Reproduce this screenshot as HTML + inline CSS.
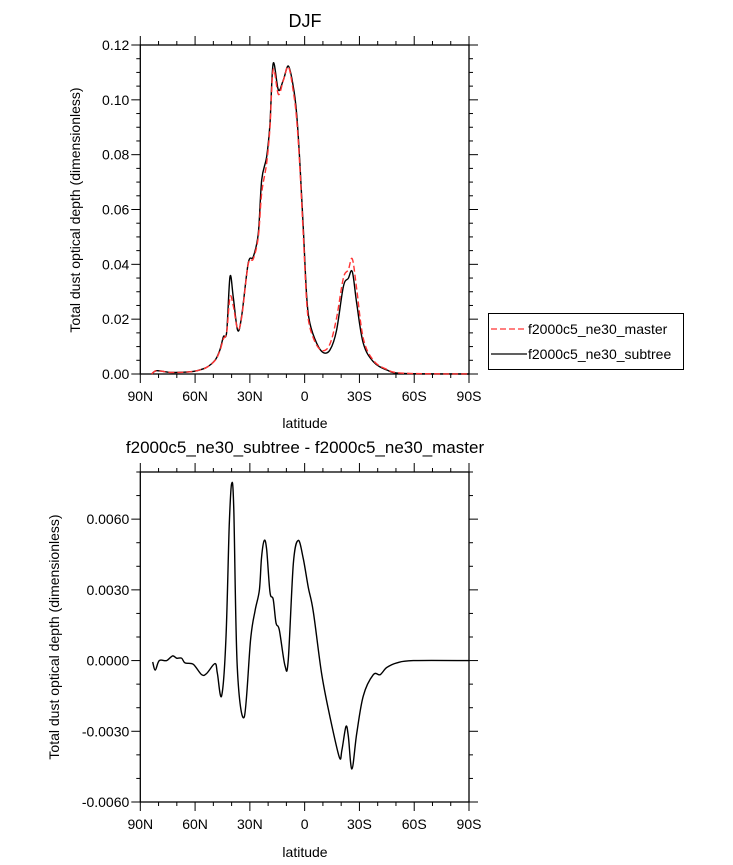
<!DOCTYPE html>
<html><head><meta charset="utf-8"><style>
body{margin:0;background:#fff}
svg text{font-family:"Liberation Sans",sans-serif;fill:#000}
</style></head><body>
<svg id="c" width="733" height="860" xmlns="http://www.w3.org/2000/svg">
<text x="305" y="27" font-size="18" text-anchor="middle">DJF</text>
<text x="305" y="453" font-size="17" text-anchor="middle">f2000c5_ne30_subtree - f2000c5_ne30_master</text>
<text transform="translate(80,210) rotate(-90)" font-size="14" text-anchor="middle">Total dust optical depth (dimensionless)</text>
<text transform="translate(59,637) rotate(-90)" font-size="14" text-anchor="middle">Total dust optical depth (dimensionless)</text>
<text x="305" y="428" font-size="14" text-anchor="middle">latitude</text>
<text x="305" y="857" font-size="14" text-anchor="middle">latitude</text>
<g>
<rect x="488.5" y="313.5" width="195" height="56" fill="none" stroke="#000" stroke-width="1"/>
<line x1="491" y1="329" x2="527" y2="329" stroke="#f33" stroke-width="1.3" stroke-dasharray="6,3"/>
<text x="528" y="334" font-size="14">f2000c5_ne30_master</text>
<line x1="491" y1="354" x2="527" y2="354" stroke="#000" stroke-width="1.3"/>
<text x="528" y="359" font-size="14">f2000c5_ne30_subtree</text>
</g>
</svg>
<script>
const lats=[83.8,81,73.7,64.6,59,53.7,49,46.4,44.5,42.7,40.9,39.1,36.7,34.5,30.9,28.1,25.4,23.5,20.8,19,17.2,14.4,11.7,8.9,6.2,4.4,2.6,0.7,-1.1,-2.9,-6.6,-10.2,-13.9,-17.5,-21.2,-23.9,-26.1,-28.5,-32.1,-37.6,-44.9,-54,-90];
const subtree=[0,0.0012,0.0006,0.0007,0.0012,0.0024,0.0051,0.0088,0.0136,0.0154,0.0355,0.0282,0.016,0.021,0.0404,0.0428,0.0513,0.0708,0.0793,0.0914,0.1133,0.1036,0.1072,0.1123,0.1048,0.0951,0.0768,0.0525,0.0282,0.0185,0.0112,0.0078,0.0088,0.016,0.0319,0.0349,0.0373,0.0258,0.0112,0.0045,0.0015,0.0002,0];
const master=[0,0.0012,0.0006,0.0007,0.0012,0.0024,0.005,0.0085,0.0128,0.0152,0.028,0.025,0.0165,0.0205,0.04,0.042,0.05,0.066,0.077,0.09,0.111,0.102,0.107,0.112,0.103,0.093,0.075,0.05,0.026,0.017,0.0105,0.0085,0.011,0.0205,0.035,0.038,0.042,0.031,0.013,0.005,0.0017,0.0003,0];
const dLats=[83.2,81.8,79.6,75.6,72.3,70.1,67.4,65.5,61,56.4,53.7,49.1,47.8,45.5,43.1,41.3,40,38.8,36.9,33.1,29.6,27.2,24.8,23.6,22.1,20.8,19,17.2,15.7,13.9,10.8,9,6.2,3.5,0.7,-2,-4.7,-9.3,-13.9,-19,-20.4,-22.6,-23.9,-25.9,-28.5,-32.1,-37.6,-41.3,-44.9,-50.4,-59.5,-90];
const diff=[-0.00006,-0.0004,0,0,0.0002,0.0001,0.0001,-0.0001,-0.00016,-0.0006,-0.00055,-0.00013,-0.00055,-0.0015,0.0009,0.0057,0.0075,0.0064,-0.0003,-0.0024,0.0009,0.0021,0.003,0.0044,0.0051,0.0047,0.0029,0.0026,0.0016,0.0013,-0.0002,0,0.0041,0.0051,0.0043,0.0031,0.0021,-0.00055,-0.0024,-0.0041,-0.0038,-0.0028,-0.0032,-0.0046,-0.0031,-0.0015,-0.0006,-0.0006,-0.0003,-0.0001,0,0];
const xTickLabels=["90N","60N","30N","0","30S","60S","90S"];
const xTickVals=[90,60,30,0,-30,-60,-90];
const topYTicks=[0,0.02,0.04,0.06,0.08,0.10,0.12];
const topYLabels=["0.00","0.02","0.04","0.06","0.08","0.10","0.12"];
const botYTicks=[-0.006,-0.003,0,0.003,0.006];
const botYLabels=["-0.0060","-0.0030","0.0000","0.0030","0.0060"];

const svg=document.getElementById('c');
const NS='http://www.w3.org/2000/svg';
function mk(t,a){const e=document.createElementNS(NS,t);for(const k in a)e.setAttribute(k,a[k]);svg.appendChild(e);return e;}
const L=140.3,R=469;
const xs=lat=>L+(90-lat)/180*(R-L);
function panel(top,bot,ymin,ymax,yt,yl,minorStep,prefix){
  const ys=v=>bot-(v-ymin)/(ymax-ymin)*(bot-top);
  const f=mk('rect',{x:L,y:top,width:R-L,height:bot-top,fill:'none',stroke:'#000','stroke-width':1.3});
  
  
  for(let lat=90;lat>=-90;lat-=10){
    const x=xs(lat),maj=lat%30===0,len=maj?9:4;
    mk('line',{x1:x,y1:bot,x2:x,y2:bot+len,stroke:'#000','stroke-width':1});
    mk('line',{x1:x,y1:top,x2:x,y2:top-len,stroke:'#000','stroke-width':1});
  }
  xTickVals.forEach((v,i)=>{
    const t=mk('text',{x:xs(v),y:bot+27,'font-size':14,'text-anchor':'middle'});
    t.textContent=xTickLabels[i];
    
    
  });
  const n=Math.round((ymax-ymin)/minorStep);
  for(let i=0;i<=n;i++){
    const v=ymin+i*minorStep,y=ys(v);
    const maj=yt.some(t=>Math.abs(t-v)<minorStep/10),len=maj?9:4;
    mk('line',{x1:L,y1:y,x2:L-len,y2:y,stroke:'#000','stroke-width':1});
    mk('line',{x1:R,y1:y,x2:R+len,y2:y,stroke:'#000','stroke-width':1});
  }
  yt.forEach((v,i)=>{
    const t=mk('text',{x:L-11,y:ys(v)+5,'font-size':14,'text-anchor':'end'});
    t.textContent=yl[i];
    
    
  });
  return ys;
}
function line(lx,vy,ys,color,dash,name){
  const P=lx.map((l,i)=>[xs(l),ys(vy[i])]);
  let d='M'+P[0][0].toFixed(1)+','+P[0][1].toFixed(1);
  for(let i=0;i<P.length-1;i++){
    const p0=P[Math.max(0,i-1)],p1=P[i],p2=P[i+1],p3=P[Math.min(P.length-1,i+2)];
    const c1=[p1[0]+(p2[0]-p0[0])/6,p1[1]+(p2[1]-p0[1])/6];
    const c2=[p2[0]-(p3[0]-p1[0])/6,p2[1]-(p3[1]-p1[1])/6];
    d+=' C'+c1.map(v=>v.toFixed(1)).join(',')+' '+c2.map(v=>v.toFixed(1)).join(',')+' '+p2.map(v=>v.toFixed(1)).join(',');
  }
  const p=mk('path',{d:d,fill:'none',stroke:color,'stroke-width':1.4,'stroke-linejoin':'round'});
  if(dash)p.setAttribute('stroke-dasharray',dash);
  
  
}
const ysT=panel(45,374,0,0.12,topYTicks,topYLabels,0.005,'top');
line(lats,subtree,ysT,'#000',null,'subtree-line');
line(lats,master,ysT,'#f33','6,3','master-line');
const ysB=panel(472,802,-0.006,0.008,botYTicks,botYLabels,0.001,'bottom');
line(dLats,diff,ysB,'#000',null,'difference-line');
</script>
</body></html>
